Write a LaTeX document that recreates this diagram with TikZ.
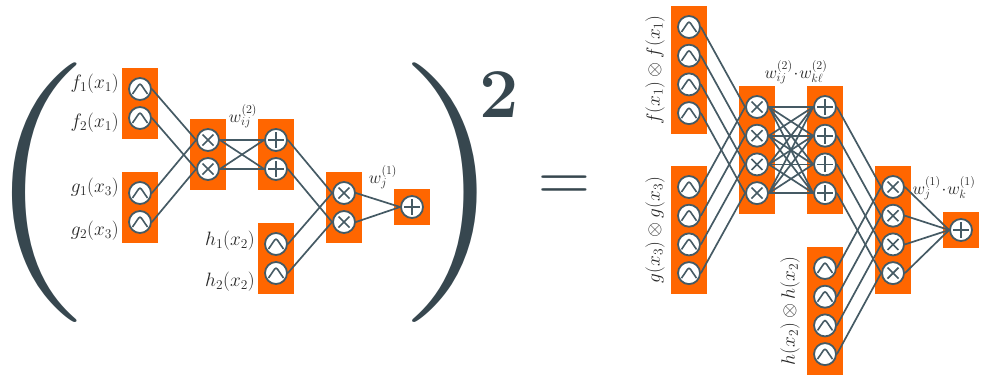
\documentclass[tikz,border=0pt]{standalone}
\definecolor{org}{HTML}{FF6600}
\definecolor{lc}{HTML}{455A64}
\definecolor{pc}{HTML}{37474F}
\tikzset{
  unit/.style={circle, draw=lc, fill=white, line width=1.8pt, minimum size=22pt, inner sep=0pt},
  inp/.style={unit, path picture={\draw[lc, line width=1.6pt, rounded corners=2.5pt]
      ([shift={(-7.5pt,-5pt)}]path picture bounding box.center) --
      ([shift={(0pt,6pt)}]path picture bounding box.center) --
      ([shift={(7.5pt,-5pt)}]path picture bounding box.center);}},
  prod/.style={unit, path picture={\draw[lc, line width=1.6pt]
      ([shift={(-5.5pt,-5.5pt)}]path picture bounding box.center) --
      ([shift={(5.5pt,5.5pt)}]path picture bounding box.center)
      ([shift={(-5.5pt,5.5pt)}]path picture bounding box.center) --
      ([shift={(5.5pt,-5.5pt)}]path picture bounding box.center);}},
  sumu/.style={unit, path picture={\draw[lc, line width=1.6pt]
      ([shift={(-8pt,0pt)}]path picture bounding box.center) --
      ([shift={(8pt,0pt)}]path picture bounding box.center)
      ([shift={(0pt,8pt)}]path picture bounding box.center) --
      ([shift={(0pt,-8pt)}]path picture bounding box.center);}},
  conn/.style={draw=lc, line width=1.7pt},
  obox/.style={fill=org, draw=none, inner sep=0pt, minimum width=36pt},
  box2/.style={obox, minimum height=71pt},
  box4/.style={obox, minimum height=128pt},
  box1/.style={obox, minimum height=36pt},
  lab/.style={font=\fontsize{17.28}{20}\selectfont, inner sep=0pt, text=black!85, scale=1.12, transform shape},
  wlab/.style={font=\fontsize{17.28}{20}\selectfont, inner sep=0pt, text=black!85},
  big/.style={text=pc, inner sep=0pt},
}
\begin{document}
\begin{tikzpicture}[x=1pt, y=-1pt]
\useasboundingbox (0,0) rectangle (982,376);
% ---------- left: boxes
\node[box2] (bF) at (140,103.5) {};
\node[box2] (bG) at (140,207.5) {};
\node[box2] (bX) at (208,154.5) {};
\node[box2] (bP) at (276,154.5) {};
\node[box2] (bH) at (276,258.5) {};
\node[box2] (bY) at (344,207.5) {};
\node[box1] (bS) at (412,207) {};
% ---------- left: units
\node[inp] (f1) at (140,89) {};
\node[inp] (f2) at (140,118) {};
\node[inp] (g1) at (140,193) {};
\node[inp] (g2) at (140,222) {};
\node[prod] (x1) at (208,140) {};
\node[prod] (x2) at (208,169) {};
\node[sumu] (p1) at (276,140) {};
\node[sumu] (p2) at (276,169) {};
\node[inp] (h1) at (276,244) {};
\node[inp] (h2) at (276,273) {};
\node[prod] (y1) at (344,193) {};
\node[prod] (y2) at (344,222) {};
\node[sumu] (s) at (412,207) {};
% ---------- left: connectors
\foreach \i in {1,2} {
  \draw[conn] (f\i.east) -- (x\i.west);
  \draw[conn] (g\i.east) -- (x\i.west);
  \draw[conn] (p\i.east) -- (y\i.west);
  \draw[conn] (h\i.east) -- (y\i.west);
  \draw[conn] (y\i.east) -- (s.west);
  \foreach \j in {1,2} \draw[conn] (x\i.east) -- (p\j.west);
}
% ---------- left: labels
\node[lab, anchor=east] (lf1) at (119,84) {$f_1(x_1)$};
\node[lab, anchor=east] (lf2) at (119,123) {$f_2(x_1)$};
\node[lab, anchor=east] (lg1) at (119,188) {$g_1(x_3)$};
\node[lab, anchor=east] (lg2) at (119,231) {$g_2(x_3)$};
\node[lab, anchor=east] (lh1) at (255,241) {$h_1(x_2)$};
\node[lab, anchor=east] (lh2) at (255,282) {$h_2(x_2)$};
\node[wlab] (lw2) at (243,116) {$w^{(2)}_{ij}$};
\node[wlab] (lw1) at (383,177) {$w^{(1)}_{j}$};
% ---------- parentheses, exponent, equals
\node[big, font=\fontsize{260}{260}\selectfont] (lpar) at (38.5,193) {\makebox[0pt]{\scalebox{1.15}[1]{(}}};
\node[big, font=\fontsize{260}{260}\selectfont] (rpar) at (451.5,193) {\makebox[0pt]{\scalebox{1.15}[1]{)}}};
\node[big, font=\fontsize{70}{70}\selectfont\bfseries] (sq) at (499,95) {2};
\node[big, font=\fontsize{72}{72}\selectfont] (eq) at (564,189) {=};
% ---------- right: boxes
\node[box4] (rbF) at (689,70) {};
\node[box4] (rbG) at (689,230) {};
\node[box4] (rbX) at (757,150) {};
\node[box4] (rbP) at (825,150) {};
\node[box4] (rbH) at (825,311) {};
\node[box4] (rbY) at (893,230) {};
\node[box1] (rbS) at (961,230) {};
% ---------- right: units
\foreach \i [evaluate=\i as \yy using 27+(\i-1)*28.7] in {1,2,3,4} {
  \node[inp] (rf\i) at (689,\yy) {};
  \node[prod] (rx\i) at (757,\yy+80) {};
  \node[sumu] (rp\i) at (825,\yy+80) {};
  \node[inp] (rg\i) at (689,\yy+160) {};
  \node[inp] (rh\i) at (825,\yy+241) {};
  \node[prod] (ry\i) at (893,\yy+160) {};
}
\node[sumu] (rs) at (961,230) {};
% ---------- right: connectors
\foreach \i in {1,2,3,4} {
  \draw[conn] (rf\i.east) -- (rx\i.west);
  \draw[conn] (rg\i.east) -- (rx\i.west);
  \draw[conn] (rp\i.east) -- (ry\i.west);
  \draw[conn] (rh\i.east) -- (ry\i.west);
  \draw[conn] (ry\i.east) -- (rs.west);
  \foreach \j in {1,2,3,4} \draw[conn] (rx\i.east) -- (rp\j.west);
}
% ---------- right: labels
\node[lab, rotate=90] (rlf) at (655,70) {$f(x_1)\otimes f(x_1)$};
\node[lab, rotate=90] (rlg) at (655,230) {$g(x_3)\otimes g(x_3)$};
\node[lab, rotate=90] (rlh) at (790,311) {$h(x_2)\otimes h(x_2)$};
\node[wlab] (rw2) at (796,72) {$w^{(2)}_{ij}\!\cdot\! w^{(2)}_{k\ell}$};
\node[wlab] (rw1) at (944,188) {$w^{(1)}_{j}\!\cdot\! w^{(1)}_{k}$};
\end{tikzpicture}
\end{document}
